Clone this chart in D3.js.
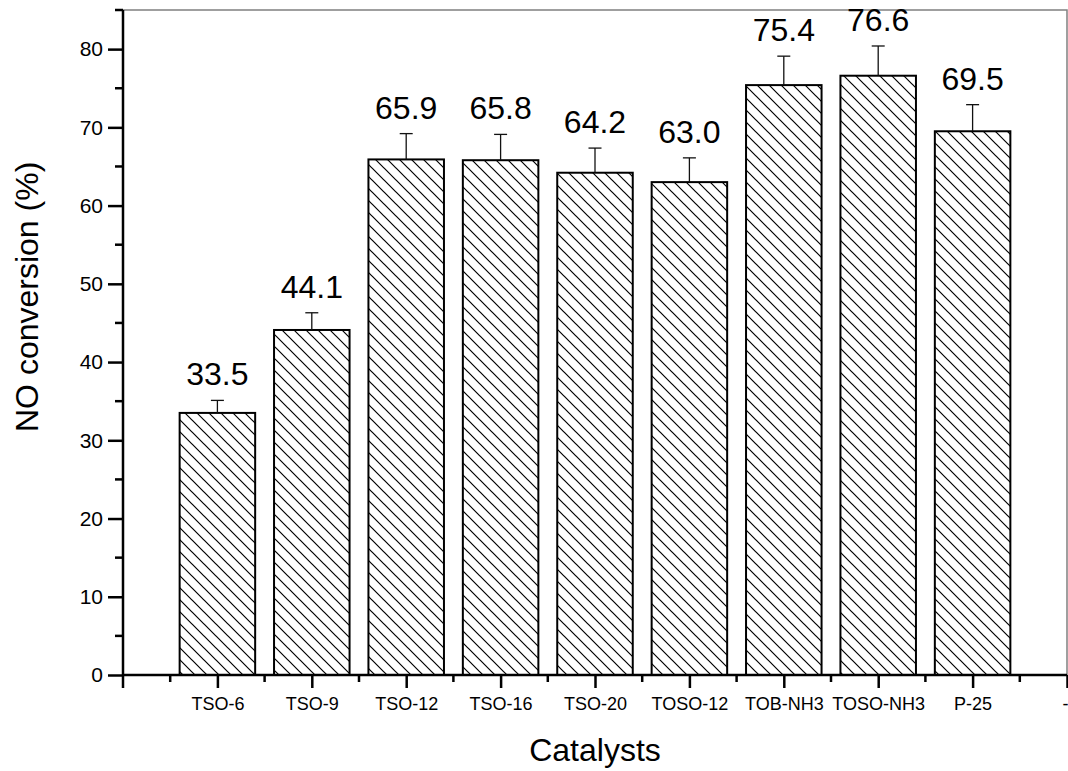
<!DOCTYPE html>
<html>
<head>
<meta charset="utf-8">
<script src="https://cdn.jsdelivr.net/npm/d3@7"></script>
<style>
  body { margin: 0; background: #fff; }
  svg { display: block; font-family: "Liberation Sans", Arial, sans-serif; }
</style>
</head>
<body>
<script>
// data
const catalysts = ["TSO-6", "TSO-9", "TSO-12", "TSO-16", "TSO-20", "TOSO-12", "TOB-NH3", "TOSO-NH3", "P-25"]
const conversion = [33.5, 44.1, 65.9, 65.8, 64.2, 63.0, 75.4, 76.6, 69.5]
const errors = [1.6, 2.2, 3.3, 3.3, 3.15, 3.1, 3.7, 3.8, 3.4]
const xTickLabels = ["TSO-6", "TSO-9", "TSO-12", "TSO-16", "TSO-20", "TOSO-12", "TOB-NH3", "TOSO-NH3", "P-25", "-"]
const yTicks = [0, 10, 20, 30, 40, 50, 60, 70, 80]

const w = 1068
const h = 771

const svg = d3.select("body")
  .append("svg")
  .attr("width", w)
  .attr("height", h)

// hatch pattern
const hs = 12
svg.append("defs")
  .append("pattern")
  .attr("id", "hatch")
  .attr("patternUnits", "userSpaceOnUse")
  .attr("width", hs)
  .attr("height", hs)
  .append("path")
  .attr("d", `M0,0 L${hs},${hs} M${-2},${hs - 2} L2,${hs + 2} M${hs - 2},-2 L${hs + 2},2`)
  .attr("stroke", "#000")
  .attr("stroke-width", 1.2)

const xScale = d3.scaleLinear().domain([0, 10]).range([123, 1067])
const yScale = d3.scaleLinear().domain([0, 85]).range([675, 10])
const barW = (xScale(1) - xScale(0)) * 0.8

// frame (top + right, grey)
svg.append("path")
  .attr("d", `M${xScale(0)},${yScale(85)} H${xScale(10)} V${yScale(0)}`)
  .attr("fill", "none")
  .attr("stroke", "#808080")
  .attr("stroke-width", 1.5)

// bars
svg.selectAll("rect.bar")
  .data(conversion)
  .enter()
  .append("rect")
  .attr("class", "bar")
  .attr("x", (d, i) => xScale(i + 1) - barW / 2)
  .attr("y", d => yScale(d))
  .attr("width", barW)
  .attr("height", d => yScale(0) - yScale(d))
  .attr("fill", "url(#hatch)")
  .attr("stroke", "#000")
  .attr("stroke-width", 2)

// error bars (upper only)
const eb = svg.append("g").attr("stroke", "#111").attr("stroke-width", 1.3)
conversion.forEach((d, i) => {
  const cx = xScale(i + 1)
  eb.append("line")
    .attr("x1", cx).attr("x2", cx)
    .attr("y1", yScale(d)).attr("y2", yScale(d + errors[i]))
  eb.append("line")
    .attr("x1", cx - 6.5).attr("x2", cx + 6.5)
    .attr("y1", yScale(d + errors[i])).attr("y2", yScale(d + errors[i]))
})

// value labels
svg.selectAll("text.val")
  .data(conversion)
  .enter()
  .append("text")
  .attr("class", "val")
  .attr("x", (d, i) => xScale(i + 1))
  .attr("y", (d, i) => yScale(d + errors[i]) - 15)
  .attr("text-anchor", "middle")
  .attr("font-size", 32)
  .text(d => d.toFixed(1))

// y axis
const yAxis = d3.axisLeft(yScale)
  .tickValues(yTicks)
  .tickSize(15)
  .tickPadding(5)
  .tickFormat(d3.format("d"))
const gy = svg.append("g")
  .attr("transform", `translate(${xScale(0)},0)`)
  .call(yAxis)
gy.select(".domain").attr("stroke-width", 2.5).attr("d", `M0,${yScale(0)}V${yScale(85)}`)
gy.selectAll(".tick line").attr("stroke-width", 2.5)
gy.selectAll(".tick text").attr("font-size", 21).attr("font-family", "Liberation Sans, Arial, sans-serif").attr("fill", "#000")
// y minor ticks
gy.selectAll("line.minor")
  .data(d3.range(5, 90, 10))
  .enter()
  .append("line")
  .attr("x1", -8).attr("x2", 0)
  .attr("y1", d => yScale(d)).attr("y2", d => yScale(d))
  .attr("stroke", "#000")
  .attr("stroke-width", 2.5)

// x axis
const xAxis = d3.axisBottom(xScale)
  .tickValues(d3.range(1, 11))
  .tickSize(13)
  .tickPadding(9)
  .tickFormat((d, i) => xTickLabels[i])
const gx = svg.append("g")
  .attr("transform", `translate(0,${yScale(0)})`)
  .call(xAxis)
gx.select(".domain").attr("stroke-width", 2.5).attr("d", `M${xScale(0)},0H${xScale(10)}`)
gx.selectAll(".tick line").attr("stroke-width", 2.5)
gx.selectAll(".tick text").attr("font-size", 18).attr("font-family", "Liberation Sans, Arial, sans-serif").attr("fill", "#000")
// last label sits on the right edge
gx.selectAll(".tick text").filter(d => d === 10).attr("text-anchor", "end").attr("dx", 1)
gx.append("line")
  .attr("x1", xScale(0)).attr("x2", xScale(0))
  .attr("y1", 0).attr("y2", 13)
  .attr("stroke", "#000").attr("stroke-width", 2.5)
gx.selectAll("line.minor")
  .data(d3.range(0.5, 10, 1))
  .enter()
  .append("line")
  .attr("x1", d => xScale(d)).attr("x2", d => xScale(d))
  .attr("y1", 0).attr("y2", 7)
  .attr("stroke", "#000")
  .attr("stroke-width", 2.5)

// axis titles
svg.append("text")
  .attr("x", (xScale(0) + xScale(10)) / 2)
  .attr("y", 761)
  .attr("text-anchor", "middle")
  .attr("font-size", 32)
  .text("Catalysts")

svg.append("text")
  .attr("transform", "translate(38,432) rotate(-90)")
  .attr("text-anchor", "start")
  .attr("font-size", 32)
  .text("NO conversion (%)")
</script>
</body>
</html>
